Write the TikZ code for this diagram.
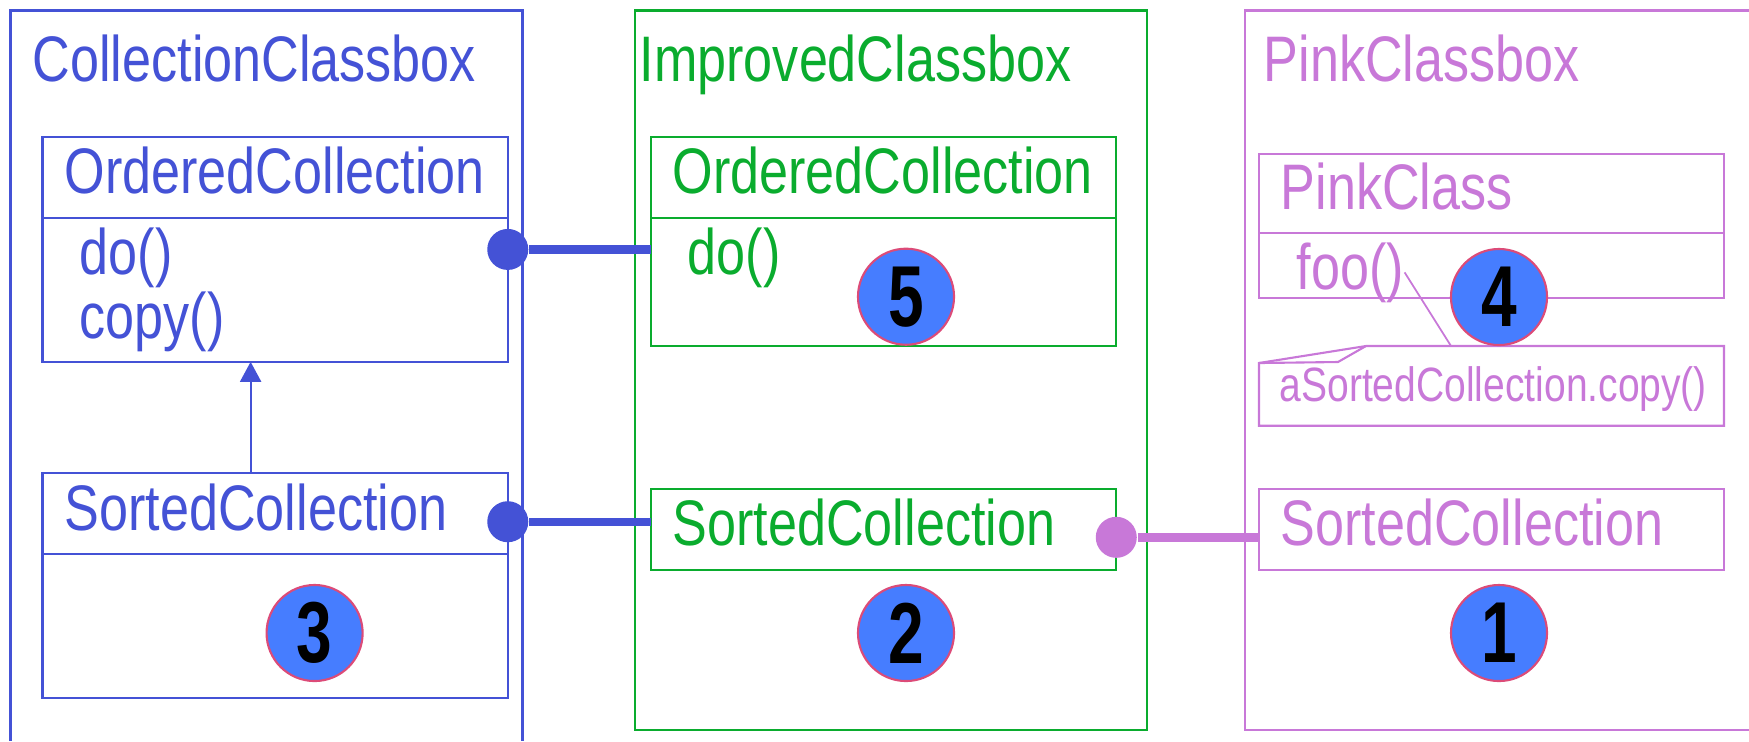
\documentclass[tikz,border=0pt]{standalone}
\usepackage{fontspec}
\setmainfont{Liberation Sans}[FakeStretch=0.81]
\newfontfamily\badgefont{Liberation Sans}[FakeStretch=0.74]
\usetikzlibrary{arrows.meta}
\definecolor{cbblue}{RGB}{68,82,214}
\definecolor{icgreen}{RGB}{10,172,46}
\definecolor{pkpink}{RGB}{200,120,216}
\definecolor{badgefill}{RGB}{70,125,255}
\definecolor{badgeedge}{RGB}{220,75,120}

\begin{document}
\begin{tikzpicture}[x=0.01cm,y=-0.01cm,
  lbl/.style={anchor=base west,inner sep=0pt,xshift=0.03cm,font=\fontsize{18.3}{22}\selectfont},
  notelbl/.style={anchor=base west,inner sep=0pt,xshift=0.02cm,font=\fontsize{13.7}{16}\selectfont},
  classbox/.style={draw,rectangle,anchor=north west,inner sep=0pt,outer sep=0pt,line width=0.6pt,minimum width=4.65cm},
  thin/.style={line width=0.6pt},
  dot/.style={circle,fill,inner sep=0pt,minimum size=0.41cm},
  link/.style={line width=2.4pt},
  badge/.style={circle,fill=badgefill,draw=badgeedge,line width=0.6pt,inner sep=0pt,minimum size=0.96cm,font=\badgefont\bfseries\fontsize{24.6}{25}\selectfont}]
\useasboundingbox (0,0) rectangle (1749,741);

% CollectionClassbox
\draw[cbblue,thin] (10.5,741) |- (522.5,10.5) -- (522.5,741);
\node[lbl,cbblue] (cbTitle) at (29,81.7) {CollectionClassbox};
\node[classbox,cbblue,minimum height=2.247cm] (cbOrdered) at (42.5,137) {};
\draw[cbblue,thin] (cbOrdered.west |- 0,218) -- (cbOrdered.east |- 0,218);
\node[lbl,cbblue] (cbOrderedName) at (61,193) {OrderedCollection};
\node[lbl,cbblue] (cbDo) at (76,274) {do()};
\node[lbl,cbblue] (cbCopy) at (76,338) {copy()};
\node[classbox,cbblue,minimum height=2.247cm] (cbSorted) at (42.5,473) {};
\draw[cbblue,thin] (cbSorted.west |- 0,554) -- (cbSorted.east |- 0,554);
\node[lbl,cbblue] (cbSortedName) at (61,530) {SortedCollection};
\draw[cbblue,thin,-{Triangle[length=5.7pt,width=6pt]}] ([xshift=2.08cm]cbSorted.north west) -- ([xshift=2.08cm]cbOrdered.south west);

% ImprovedClassbox
\draw[icgreen,thin] (634.8,10.5) rectangle (1147.3,730);
\node[lbl,icgreen] (icTitle) at (636,81.7) {ImprovedClassbox};
\node[classbox,icgreen,minimum height=2.087cm] (icOrdered) at (651,137) {};
\draw[icgreen,thin] (icOrdered.west |- 0,218) -- (icOrdered.east |- 0,218);
\node[lbl,icgreen] (icOrderedName) at (669,193) {OrderedCollection};
\node[lbl,icgreen] (icDo) at (684,274) {do()};
\node[classbox,icgreen,minimum height=0.807cm] (icSorted) at (651,489.3) {};
\node[lbl,icgreen] (icSortedName) at (669,545.7) {SortedCollection};

% PinkClassbox
\draw[pkpink,thin] (1749,10.5) -| (1245,730) -- (1749,730);
\node[lbl,pkpink] (pkTitle) at (1260,81.7) {PinkClassbox};
\node[classbox,pkpink,minimum height=1.44cm] (pkClass) at (1259,153.7) {};
\draw[pkpink,thin] (pkClass.west |- 0,233) -- (pkClass.east |- 0,233);
\node[lbl,pkpink] (pkClassName) at (1277,209) {PinkClass};
\node[lbl,pkpink] (pkFoo) at (1293,289) {foo()};
\draw[pkpink,thin] (1259,363) -- (1366,346) -- (1724,346) -- (1724,425.7) -- (1259,425.7) -- cycle;
\draw[pkpink,thin] (1259,363) -- (1338,362) -- (1366,346);
\node[notelbl,pkpink] (pkNote) at (1277,401.7) {aSortedCollection.copy()};
\coordinate (pkNoteTop) at (1451,346);
\draw[pkpink,line width=0.5pt] (pkFoo.east) -- (pkNoteTop);
\node[classbox,pkpink,minimum height=0.807cm] (pkSorted) at (1259,489.3) {};
\node[lbl,pkpink] (pkSortedName) at (1277,545.7) {SortedCollection};

% links
\node[dot,cbblue] (cbOrderedDot) at (cbOrdered.east) {};
\node[dot,cbblue] (cbSortedDot) at (cbSorted.east |- 0,521.7) {};
\node[dot,pkpink] (icSortedDot) at (icSorted.east |- 0,537.3) {};
\draw[link,cbblue] (cbOrderedDot) -- (cbOrderedDot -| icOrdered.west);
\draw[link,cbblue] (cbSortedDot) -- (cbSortedDot -| icSorted.west);
\draw[link,pkpink] (icSortedDot) -- (icSortedDot -| pkSorted.west);

% badges
\node[badge] (b1) at (1499,633) {1};
\node[badge] (b2) at (906,633) {2};
\node[badge] (b3) at (314.6,633) {3};
\node[badge] (b4) at (1499,297) {4};
\node[badge] (b5) at (906,296.7) {5};
\end{tikzpicture}
\end{document}
